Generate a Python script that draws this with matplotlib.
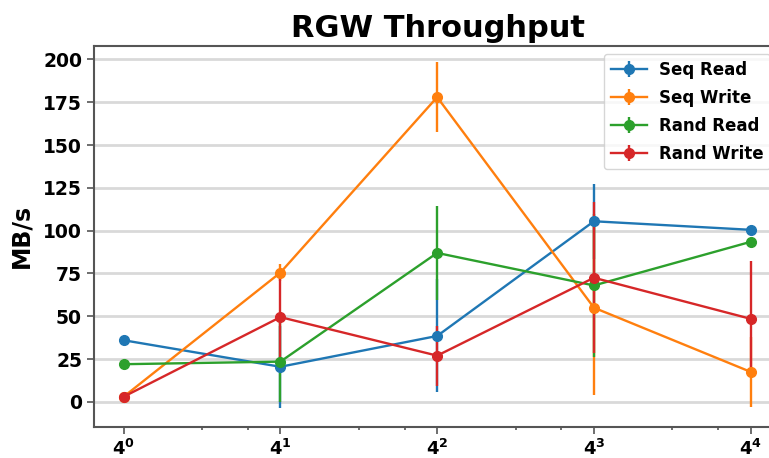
import matplotlib.pyplot as plt

sizes = [1, 4, 16, 64, 256]

seq_read = [36, 20.5, 38.5, 105.5, 100.5]
seq_read_err = [1, 24, 33, 22, 1]
seq_write = [3, 75.5, 178, 55, 17.5]
seq_write_err = [2, 5, 20.5, 51, 20.5]
rand_read = [22, 23.5, 87, 68, 93.5]
rand_read_err = [1, 23.5, 27.5, 42, 1]
rand_write = [3, 49.5, 27, 72.5, 48.5]
rand_write_err = [2, 25, 17.5, 44, 34]

fig = plt.figure(figsize=(7.69, 4.58), dpi=100)
ax = fig.add_axes([0.122, 0.068, 0.895, 0.832])

ax.errorbar(sizes, seq_read, yerr=seq_read_err, marker="o", label="Seq Read", lw=1.7, ms=7)
ax.errorbar(sizes, seq_write, yerr=seq_write_err, marker="o", label="Seq Write", lw=1.7, ms=7)
ax.errorbar(sizes, rand_read, yerr=rand_read_err, marker="o", label="Rand Read", lw=1.7, ms=7)
ax.errorbar(sizes, rand_write, yerr=rand_write_err, marker="o", label="Rand Write", lw=1.7, ms=7)

ax.set_xscale("log", base=4)
ax.set_xlim(4 ** -0.19, 4 ** 4.2)
ax.set_ylim(-14.6, 208)
ax.set_yticks([0, 25, 50, 75, 100, 125, 150, 175, 200])
ax.grid(axis="y", color="#d9d9d9", lw=2)
ax.set_axisbelow(True)

for s in ax.spines.values():
    s.set_color("#555555")
    s.set_linewidth(1.5)
ax.tick_params(which="both", colors="#555555", labelcolor="black", width=1.2)
ax.tick_params(which="major", length=5)
ax.tick_params(axis="x", labelsize=13)
ax.tick_params(axis="y", labelsize=13.5)
for lbl in ax.get_xticklabels() + ax.get_yticklabels():
    lbl.set_fontweight("bold")

ax.set_ylabel("MB/s", fontsize=17, fontweight="bold", labelpad=7)
ax.set_title("RGW Throughput", fontsize=22, fontweight="bold", pad=6)
ax.legend(loc="upper left", bbox_to_anchor=(604 / 769, 1 - 54 / 458),
          bbox_transform=fig.transFigure, prop={"weight": "bold", "size": 12},
          handlelength=2.2, labelspacing=0.6, handletextpad=0.7, borderaxespad=0)

fig.savefig("out.png", dpi=100)
